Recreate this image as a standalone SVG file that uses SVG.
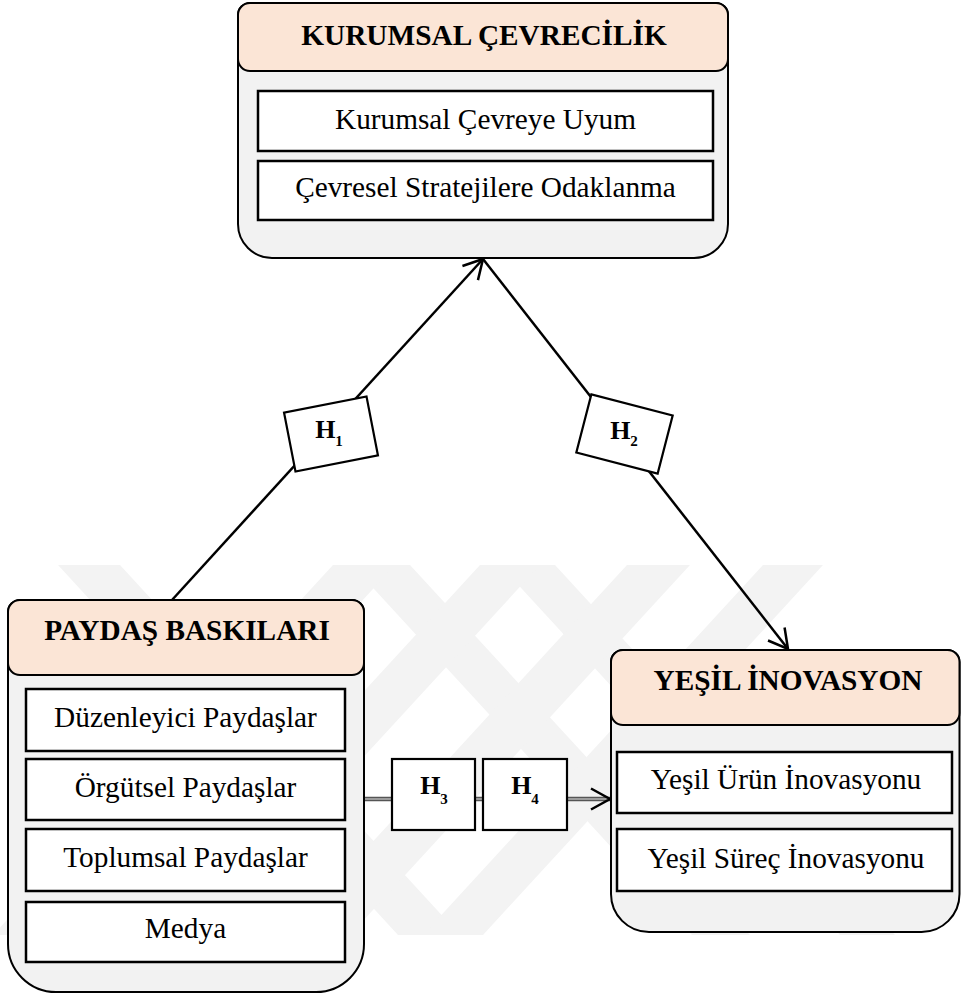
<svg xmlns="http://www.w3.org/2000/svg" width="961" height="998" viewBox="0 0 961 998">
  <defs>
    <style>
      .body { fill: #F2F2F2; stroke: #000; stroke-width: 2; }
      .head { fill: #FBE5D6; stroke: #000; stroke-width: 2; }
      .item { fill: #fff; stroke: #000; stroke-width: 2.5; }
      .hbox { fill: #fff; stroke: #000; stroke-width: 2.2; }
      .title { font-family: "Liberation Serif", "Times New Roman", serif; font-weight: bold; font-size: 29.3px; fill: #000; text-anchor: middle; }
      .label { font-family: "Liberation Serif", "Times New Roman", serif; font-size: 29.3px; fill: #000; text-anchor: middle; }
      .hyp { font-family: "Liberation Serif", "Times New Roman", serif; font-weight: bold; font-size: 26px; fill: #000; text-anchor: middle; }
      .sub { font-size: 15px; }
      .link { fill: none; stroke: #000; stroke-width: 2.5; }
      .mark { fill: #F3F3F3; stroke: none; }
    </style>
    <marker id="arrow" markerUnits="userSpaceOnUse" markerWidth="30" markerHeight="30" refX="0" refY="0" orient="auto" overflow="visible">
      <path d="M -19 -10.5 L 0 0 L -19 10.5" fill="none" stroke="#000" stroke-width="2.5"/>
    </marker>
  </defs>

  <rect width="961" height="998" fill="#fff"/>

  <!-- faint background emblem -->
  <g id="emblem">
    <polygon class="mark" points="58,565 120,565 460,935 398,935"/>
    <polygon class="mark" points="352,565 410,565 750,935 692,935"/>
    <polygon class="mark" points="500,565 555,565 895,935 840,935"/>
    <polygon class="mark" points="333,565 395,565 55,935 -7,935"/>
    <polygon class="mark" points="480,565 540,565 200,935 140,935"/>
    <polygon class="mark" points="627,565 690,565 350,935 287,935"/>
    <polygon class="mark" points="763,565 823,565 483,935 423,935"/>
  </g>

  <!-- connectors -->
  <g id="connectors">
    <line class="link" x1="172" y1="600" x2="483" y2="259" marker-end="url(#arrow)"/>
    <line class="link" x1="483" y1="259" x2="788" y2="649" marker-end="url(#arrow)"/>
    <line x1="364" y1="799" x2="610" y2="799" stroke="#555" stroke-width="4.5"/>
    <line x1="364" y1="799" x2="610" y2="799" stroke="#b4b4b4" stroke-width="1.5" marker-end="url(#arrow)"/>
  </g>

  <!-- Kurumsal Çevrecilik -->
  <g id="kurumsal-cevrecilik">
    <path class="body" d="M 250 3 H 716 A 12 12 0 0 1 728 15 V 224 A 34 34 0 0 1 694 258 H 272 A 34 34 0 0 1 238 224 V 15 A 12 12 0 0 1 250 3 Z"/>
    <rect class="head" x="238" y="3" width="490" height="68" rx="12"/>
    <text class="title" x="484" y="45">KURUMSAL ÇEVRECİLİK</text>
    <rect class="item" x="258" y="91" width="455" height="60"/>
    <text class="label" x="485.5" y="128.5">Kurumsal Çevreye Uyum</text>
    <rect class="item" x="258" y="161" width="455" height="59"/>
    <text class="label" x="485.5" y="197">Çevresel Stratejilere Odaklanma</text>
  </g>

  <!-- Paydaş Baskıları -->
  <g id="paydas-baskilari">
    <path class="body" d="M 20 600 H 352 A 12 12 0 0 1 364 612 V 944 A 48 48 0 0 1 316 992 H 56 A 48 48 0 0 1 8 944 V 612 A 12 12 0 0 1 20 600 Z"/>
    <rect class="head" x="8" y="600" width="356" height="75" rx="12"/>
    <text class="title" x="187" y="640">PAYDAŞ BASKILARI</text>
    <rect class="item" x="26" y="689" width="319" height="62"/>
    <text class="label" x="185.5" y="727">Düzenleyici Paydaşlar</text>
    <rect class="item" x="26" y="759" width="319" height="61"/>
    <text class="label" x="185.5" y="797">Örgütsel Paydaşlar</text>
    <rect class="item" x="26" y="829" width="319" height="62"/>
    <text class="label" x="185.5" y="867">Toplumsal Paydaşlar</text>
    <rect class="item" x="26" y="902" width="319" height="60"/>
    <text class="label" x="185.5" y="938">Medya</text>
  </g>

  <!-- Yeşil İnovasyon -->
  <g id="yesil-inovasyon">
    <path class="body" d="M 623 650 H 947.5 A 12 12 0 0 1 959.5 662 V 894 A 38 38 0 0 1 921.5 932 H 649 A 38 38 0 0 1 611 894 V 662 A 12 12 0 0 1 623 650 Z"/>
    <rect class="head" x="611" y="650" width="348.5" height="75" rx="12"/>
    <text class="title" x="788" y="690">YEŞİL İNOVASYON</text>
    <rect class="item" x="617" y="752" width="335" height="61"/>
    <text class="label" x="786" y="789">Yeşil Ürün İnovasyonu</text>
    <rect class="item" x="617" y="829" width="335" height="62"/>
    <text class="label" x="786" y="868">Yeşil Süreç İnovasyonu</text>
  </g>

  <!-- hypothesis labels -->
  <g id="h1">
    <rect class="hbox" x="-42" y="-30" width="84" height="60" transform="translate(331 434) rotate(-11)"/>
    <text class="hyp" x="329" y="438">H<tspan class="sub" dy="8">1</tspan></text>
  </g>
  <g id="h2">
    <rect class="hbox" x="-42" y="-30" width="84" height="60" transform="translate(624.5 434) rotate(14.5)"/>
    <text class="hyp" x="624" y="439">H<tspan class="sub" dy="7">2</tspan></text>
  </g>
  <g id="h3">
    <rect class="hbox" x="392" y="759" width="83" height="71"/>
    <text class="hyp" x="434" y="794">H<tspan class="sub" dy="10">3</tspan></text>
  </g>
  <g id="h4">
    <rect class="hbox" x="483" y="759" width="84" height="71"/>
    <text class="hyp" x="525" y="794">H<tspan class="sub" dy="10">4</tspan></text>
  </g>
</svg>
